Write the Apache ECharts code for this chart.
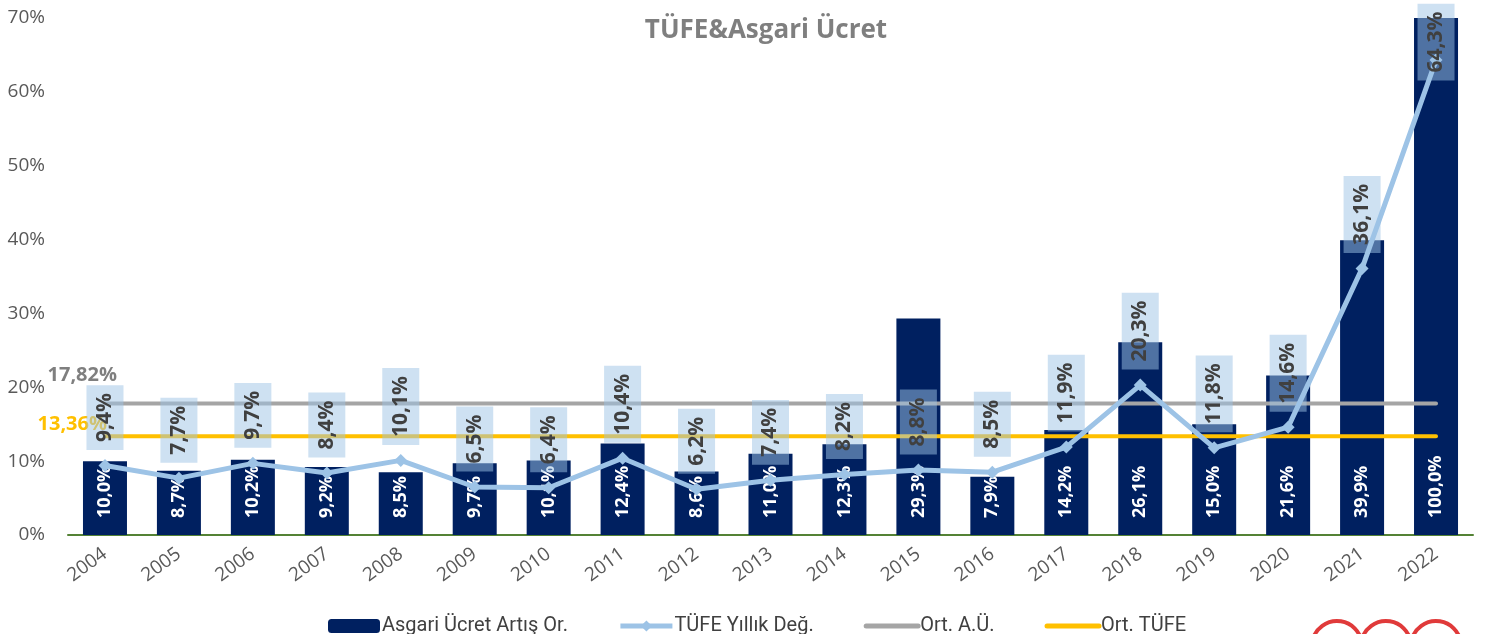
<!DOCTYPE html>
<html>
<head>
<meta charset="utf-8">
<script src="https://cdn.jsdelivr.net/npm/echarts@6/dist/echarts.min.js"></script>
<style>
html,body{margin:0;padding:0;background:#fff;}
#chart{width:1487px;height:634px;}
</style>
</head>
<body>
<div id="chart"></div>
<script>
const years = ['2004','2005','2006','2007','2008','2009','2010','2011','2012','2013','2014','2015','2016','2017','2018','2019','2020','2021','2022'];
const asgariUcret = [10.0, 8.7, 10.2, 9.2, 8.5, 9.7, 10.1, 12.4, 8.6, 11.0, 12.3, 29.3, 7.9, 14.2, 26.1, 15.0, 21.6, 39.9, 100.0];
const tufe = [9.4, 7.7, 9.7, 8.4, 10.1, 6.5, 6.4, 10.4, 6.2, 7.4, 8.2, 8.8, 8.5, 11.9, 20.3, 11.8, 14.6, 36.1, 64.3];
const ortAU = [17.82, 17.82, 17.82, 17.82, 17.82, 17.82, 17.82, 17.82, 17.82, 17.82, 17.82, 17.82, 17.82, 17.82, 17.82, 17.82, 17.82, 17.82, 17.82];
const ortTufe = [13.36, 13.36, 13.36, 13.36, 13.36, 13.36, 13.36, 13.36, 13.36, 13.36, 13.36, 13.36, 13.36, 13.36, 13.36, 13.36, 13.36, 13.36, 13.36];
const yTicks = ['0%','10%','20%','30%','40%','50%','60%','70%'];

const fmt = v => v.toFixed(1).replace('.', ',') + '%';
const fmt2 = v => v.toFixed(2).replace('.', ',') + '%';
const FONT = 'Open Sans';

const chart = echarts.init(document.getElementById('chart'));

const tufeData = tufe.map((v, i) => {
  if (i === tufe.length - 1) {
    return { value: v, label: { distance: -27 } };
  }
  return v;
});
const avgAUData = ortAU.map((v, i) => i === 0 ? {
  value: v,
  label: { show: true, position: 'left', offset: [17, -28], formatter: () => fmt2(v),
           color: '#7F7F7F', fontFamily: FONT, fontWeight: 'bold', fontSize: 20 }
} : v);
const avgTufeData = ortTufe.map((v, i) => i === 0 ? {
  value: v,
  label: { show: true, position: 'left', offset: [7, -12], formatter: () => fmt2(v),
           color: '#FFC000', fontFamily: FONT, fontWeight: 'bold', fontSize: 20 }
} : v);

chart.setOption({
  animation: false,
  backgroundColor: '#ffffff',
  title: {
    text: 'TÜFE&Asgari Ücret',
    left: 761, textAlign: 'center', top: 13,
    textStyle: { fontFamily: FONT, fontWeight: 'bold', fontSize: 26, color: '#7F7F7F' }
  },
  grid: { left: 68, right: 14, top: 18, bottom: 99, containLabel: false },
  legend: {
    left: 323, top: 611,
    itemWidth: 52, itemHeight: 14, itemGap: 50,
    textStyle: { fontFamily: 'Roboto', fontSize: 20, color: '#404040', padding: [0, 0, 0, -3] },
    data: [
      { name: 'Asgari Ücret Artış Or.' },
      { name: 'TÜFE Yıllık Değ.', lineStyle: { width: 5 } },
      { name: 'Ort. A.Ü.', lineStyle: { width: 5, cap: 'round' }, itemStyle: { color: 'rgba(0,0,0,0)', borderWidth: 0 } },
      { name: 'Ort. TÜFE', lineStyle: { width: 5, cap: 'round' }, itemStyle: { color: 'rgba(0,0,0,0)', borderWidth: 0 } }
    ]
  },
  xAxis: {
    type: 'category', data: years,
    axisLine: { lineStyle: { color: '#548235', width: 2 } },
    axisTick: { show: false },
    axisLabel: { rotate: 36, margin: 17, fontFamily: FONT, fontSize: 19, color: '#595959' }
  },
  yAxis: {
    type: 'value', min: 0, max: 70, interval: 10,
    splitLine: { show: false },
    axisLine: { show: false }, axisTick: { show: false },
    axisLabel: { margin: 23, fontFamily: FONT, fontSize: 19, color: '#595959',
                 formatter: v => yTicks[Math.round(v / 10)] }
  },
  series: [
    {
      name: 'Asgari Ücret Artış Or.', type: 'bar', data: asgariUcret,
      barWidth: 44, clip: true,
      itemStyle: { color: '#002060' },
      label: { show: true, position: 'insideBottom', rotate: 90, align: 'left', verticalAlign: 'middle',
               distance: 17, color: '#ffffff', fontFamily: FONT, fontWeight: 'bold', fontSize: 18,
               formatter: p => fmt(p.value) },
      z: 2
    },
    {
      name: 'Ort. A.Ü.', type: 'line', data: avgAUData,
      symbol: 'circle', symbolSize: 0, showSymbol: true,
      lineStyle: { color: '#A5A5A5', width: 4, cap: 'round' }, itemStyle: { color: '#A5A5A5' },
      z: 3
    },
    {
      name: 'Ort. TÜFE', type: 'line', data: avgTufeData,
      symbol: 'circle', symbolSize: 0, showSymbol: true,
      lineStyle: { color: '#FFC000', width: 4, cap: 'round' }, itemStyle: { color: '#FFC000' },
      z: 3
    },
    {
      name: 'TÜFE Yıllık Değ.', type: 'line', data: tufeData,
      symbol: 'diamond', symbolSize: 13,
      lineStyle: { color: '#9DC3E6', width: 5 }, itemStyle: { color: '#9DC3E6' },
      label: { show: true, position: 'top', rotate: 90, align: 'left', verticalAlign: 'middle',
               distance: 9, color: '#404040', fontFamily: FONT, fontWeight: 'bold', fontSize: 21,
               backgroundColor: 'rgba(157,195,230,0.5)', padding: [7, 8], lineHeight: 23,
               formatter: p => fmt(p.value) },
      z: 4
    }
  ],
  graphic: [
    { type: 'arc', shape: { cx: 1337, cy: 646, r: 25, startAngle: Math.PI * 1.05, endAngle: Math.PI * 1.95 },
      style: { stroke: '#E03A3A', lineWidth: 4, fill: null } },
    { type: 'arc', shape: { cx: 1386, cy: 646, r: 25, startAngle: Math.PI * 1.05, endAngle: Math.PI * 1.95 },
      style: { stroke: '#E03A3A', lineWidth: 4, fill: null } },
    { type: 'arc', shape: { cx: 1436, cy: 646, r: 25, startAngle: Math.PI * 1.05, endAngle: Math.PI * 1.95 },
      style: { stroke: '#E03A3A', lineWidth: 4, fill: null } }
  ]
});
</script>
</body>
</html>
